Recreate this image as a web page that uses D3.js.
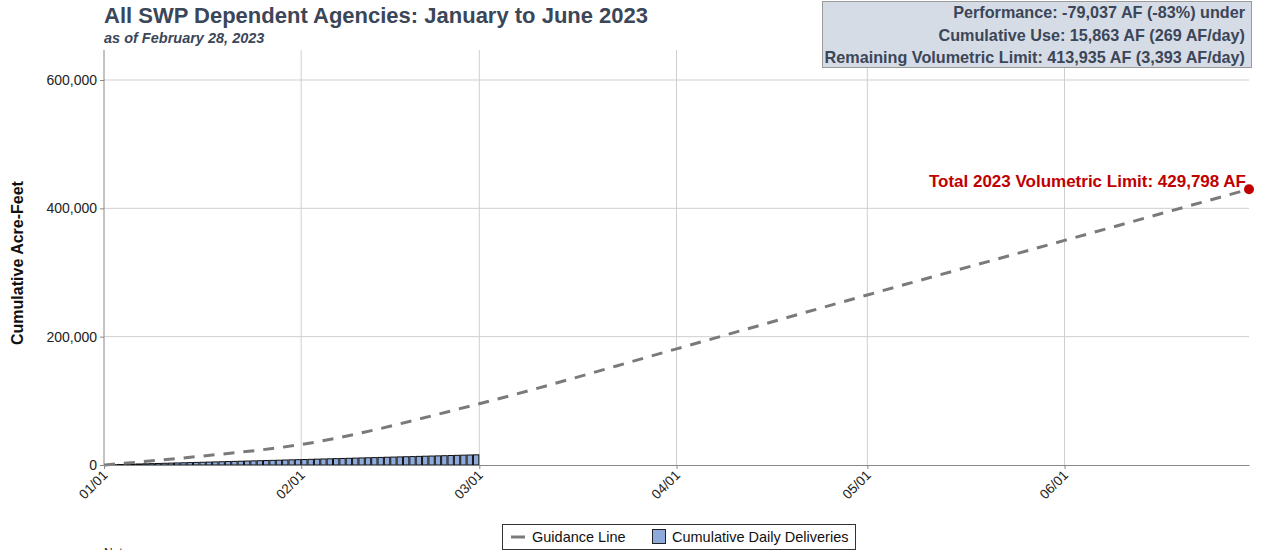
<!DOCTYPE html>
<html><head><meta charset="utf-8">
<script src="https://cdn.jsdelivr.net/npm/d3@7"></script>
<style>body{margin:0;background:#fff;} text{font-family:"Liberation Sans",Arial,sans-serif;}</style>
</head><body>
<svg id="chart" width="1263" height="550"></svg>
<script>
const title = "All SWP Dependent Agencies: January to June 2023";
const subtitle = "as of February 28, 2023";
const infoLines = ["Performance: -79,037 AF (-83%) under","Cumulative Use: 15,863 AF (269 AF/day)","Remaining Volumetric Limit: 413,935 AF (3,393 AF/day)"];
const limitLabel = "Total 2023 Volumetric Limit: 429,798 AF";
const limitValue = 429798;
const limitDate = "2023-06-30";
const yTicks = [0, 200000, 400000, 600000];
const xTickDates = ["2023-01-01","2023-02-01","2023-03-01","2023-04-01","2023-05-01","2023-06-01"];
const guideDates = ["2023-01-01","2023-01-16","2023-02-01","2023-03-01","2023-04-01","2023-05-01","2023-06-01","2023-06-30"];
const guideValues = [0, 13500, 32000, 95500, 181000, 265000, 350000, 429798];
const deliveryStart = "2023-01-01";
const deliveryValues = [250,510,790,1060,1320,1610,1880,2130,2400,2680,2950,3200,3470,3750,4010,4270,4550,4820,5070,5340,5630,5890,6150,6410,6700,6970,7220,7480,7770,8040,8300,
 8560,8830,9120,9380,9640,9930,10190,10450,10730,11010,11260,11530,11810,12080,12340,12610,12890,13150,13420,13700,13960,14230,14510,14770,15040,15320,15590,15863];

const svg = d3.select("#chart");
const parse = d3.utcParse("%Y-%m-%d");
const x = d3.scaleUtc().domain([parse("2023-01-01"), parse("2023-06-30")]).range([104, 1249]);
const y = d3.scaleLinear().domain([0, 600000]).range([465, 80]);
const panelTop = 50;
const dark = "#3b4658";

// gridlines
svg.append("g").selectAll("line.h").data(yTicks.slice(1)).join("line")
  .attr("x1", 104).attr("x2", 1249).attr("y1", d=>y(d)).attr("y2", d=>y(d))
  .attr("stroke", "#cfcfcf").attr("stroke-width", 1);
svg.append("g").selectAll("line.v").data(xTickDates.slice(1)).join("line")
  .attr("x1", d=>x(parse(d))).attr("x2", d=>x(parse(d))).attr("y1", panelTop).attr("y2", 465)
  .attr("stroke", "#cfcfcf").attr("stroke-width", 1);

// bars
const d0 = parse(deliveryStart);
const bars = deliveryValues.map((v,i)=>({date:d3.utcDay.offset(d0,i), v}));
svg.append("g").selectAll("rect").data(bars).join("rect")
  .attr("x", d=>x(d.date)+0.5)
  .attr("width", d=>x(d3.utcDay.offset(d.date,1))-x(d.date)-1)
  .attr("y", d=>y(d.v))
  .attr("height", d=>y(0)-y(d.v))
  .attr("fill", "#8eaadb").attr("stroke", "#111").attr("stroke-width", 1);

// guidance line
const gdata = guideDates.map((d,i)=>({date:parse(d), v:guideValues[i]}));
svg.append("path").datum(gdata)
  .attr("d", d3.line().x(d=>x(d.date)).y(d=>y(d.v)).curve(d3.curveMonotoneX))
  .attr("fill","none").attr("stroke","#7a7a7a").attr("stroke-width",3).attr("stroke-dasharray","11,9");

// axes
const yAxis = svg.append("g").attr("transform","translate(104,0)")
  .call(d3.axisLeft(y).tickValues(yTicks).tickFormat(d3.format(",")).tickSize(4).tickSizeOuter(0));
yAxis.select(".domain").attr("d", `M0,${panelTop}V465`).attr("stroke","#888");
yAxis.selectAll(".tick line").attr("stroke","#888");
yAxis.selectAll(".tick text").attr("font-size",14).attr("fill","#222").attr("font-family","Liberation Sans, Arial, sans-serif");

const xAxis = svg.append("g").attr("transform","translate(0,465)")
  .call(d3.axisBottom(x).tickValues(xTickDates.map(parse)).tickFormat(d3.utcFormat("%m/%d")).tickSize(4).tickSizeOuter(0));
xAxis.select(".domain").attr("stroke","#888");
xAxis.selectAll(".tick line").attr("stroke","#888");
xAxis.selectAll(".tick text").attr("font-size",13.5).attr("fill","#222")
  .attr("font-family","Liberation Sans, Arial, sans-serif")
  .attr("text-anchor","end").attr("dy",null).attr("y",0)
  .attr("transform","translate(4,11) rotate(-45)");

// y-axis title
svg.append("text").attr("transform","translate(23,263) rotate(-90)")
  .attr("text-anchor","middle").attr("font-size",16).attr("font-weight","bold").attr("fill","#111")
  .text("Cumulative Acre-Feet");

// limit point and label
svg.append("circle").attr("cx", x(parse(limitDate))).attr("cy", y(limitValue)).attr("r",5).attr("fill","#c00000");
svg.append("text").attr("x", x(parse(limitDate))-3).attr("y", y(limitValue)-2)
  .attr("text-anchor","end").attr("font-size",17).attr("font-weight","bold").attr("fill","#c00000")
  .text(limitLabel);

// titles
svg.append("text").attr("x",104).attr("y",23).attr("font-size",22).attr("font-weight","bold").attr("fill",dark).text(title);
svg.append("text").attr("x",104).attr("y",43).attr("font-size",14.5).attr("font-weight","bold").attr("font-style","italic").attr("fill",dark).text(subtitle);

// info box
svg.append("rect").attr("x",822.5).attr("y",1.5).attr("width",429).attr("height",66)
  .attr("fill","#d6dce5").attr("stroke","#9a9a9a").attr("stroke-width",1);
svg.append("g").selectAll("text").data(infoLines).join("text")
  .attr("x",1245).attr("y",(d,i)=>18+i*22.5).attr("text-anchor","end")
  .attr("font-size",16.2).attr("font-weight","bold").attr("fill",dark).text(d=>d);

// legend
const lg = svg.append("g");
lg.append("rect").attr("x",502.5).attr("y",524.5).attr("width",353).attr("height",25).attr("fill","#fff").attr("stroke","#333");
lg.append("line").attr("x1",511).attr("x2",525).attr("y1",537).attr("y2",537).attr("stroke","#7a7a7a").attr("stroke-width",3);
lg.append("text").attr("x",532).attr("y",542).attr("font-size",14.5).attr("fill","#111").text("Guidance Line");
lg.append("rect").attr("x",652.5).attr("y",529.5).attr("width",13).attr("height",14).attr("fill","#8eaadb").attr("stroke","#222");
lg.append("text").attr("x",672).attr("y",542).attr("font-size",14.5).attr("fill","#111").text("Cumulative Daily Deliveries");

svg.append("text").attr("x",104).attr("y",557).attr("font-size",12).attr("fill","#222").text("Notes:");
</script>
</body></html>
